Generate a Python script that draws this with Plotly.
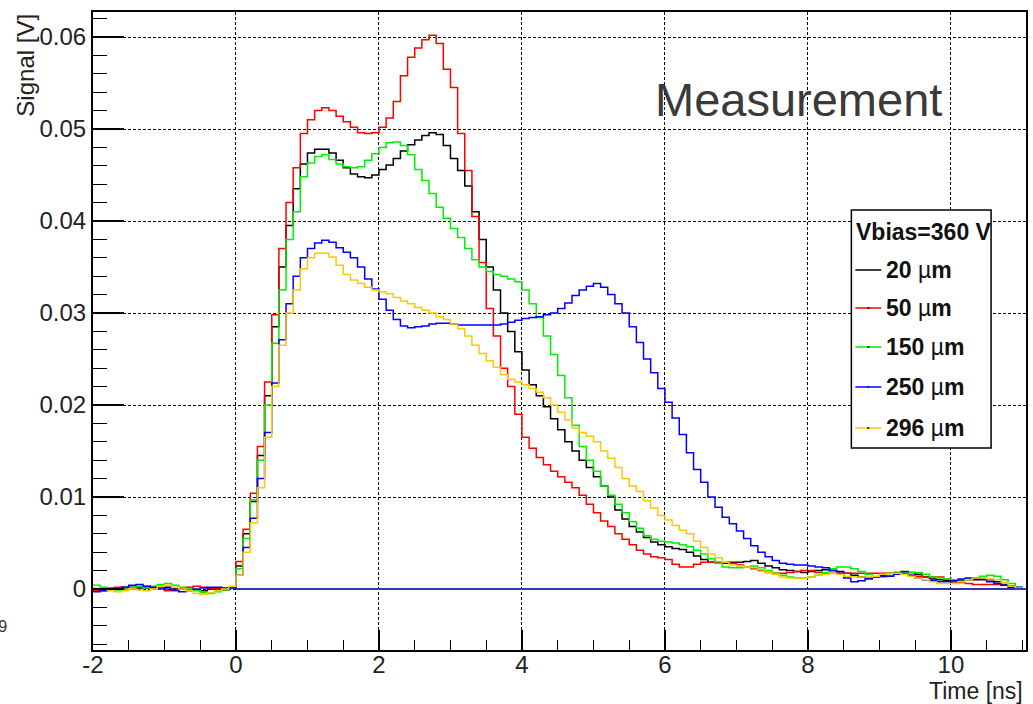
import numpy as np
import plotly.graph_objects as go

# Histogram binning: 0.1 ns bins from -2 ns to 11 ns (131 edges, 130 bins)
bin_edges_ns = np.round(np.arange(-2.0, 11.0 + 1e-9, 0.1), 1)

# Signal per bin in mV, one list per injection depth
signal_20um_mV = [
    0.0, -0.1, 0.0, 0.1, 0.2, 0.2, 0.1, 0.1, 0.2, 0.3,
    0.2, 0.1, 0.0, -0.1, -0.1, -0.2, 0.0, 0.0, 0.1, 0.2,
    2.5, 6.0, 9.5, 14.5, 21.0, 28.5, 35.0, 39.5, 43.5, 46.2,
    47.4, 47.8, 47.8, 47.4, 46.6, 45.8, 45.1, 44.8, 44.7, 45.0,
    45.6, 46.1, 46.8, 47.6, 48.3, 48.8, 49.3, 49.6, 49.4, 48.2,
    46.8, 45.5, 43.8, 41.0, 38.0, 35.0, 32.5, 30.0, 28.0, 25.8,
    23.8, 22.2, 21.0, 19.8, 18.5, 17.3, 16.0, 15.0, 14.0, 13.2,
    12.2, 11.2, 10.0, 8.6, 7.6, 6.8, 6.2, 5.6, 5.1, 4.8,
    4.6, 4.4, 4.3, 4.0, 3.6, 3.2, 2.9, 2.8, 2.8, 2.9,
    2.9, 3.0, 3.1, 2.8, 2.5, 2.3, 2.1, 2.0, 1.9, 1.8,
    1.9, 2.0, 2.1, 2.0, 1.9, 1.7, 1.5, 1.3, 1.2, 1.3,
    1.5, 1.7, 1.8, 1.9, 1.8, 1.6, 1.3, 1.1, 1.0, 0.9,
    0.8, 0.9, 1.0, 1.0, 1.0, 1.0, 0.8, 0.5, 0.2, 0.0,
]
signal_50um_mV = [
    -0.2, -0.2, 0.1, 0.2, 0.1, 0.0, 0.2, 0.3, 0.1, 0.0,
    -0.2, -0.2, 0.0, 0.2, 0.3, 0.2, 0.1, 0.0, -0.1, 0.1,
    3.0, 6.5, 10.4, 15.5, 22.5, 29.8, 37.0, 42.0, 45.8, 49.5,
    51.0, 52.0, 52.3, 52.0, 51.4, 50.8, 50.2, 49.6, 49.5, 49.6,
    50.2, 51.2, 53.0, 55.8, 57.8, 58.8, 59.7, 60.2, 59.3, 56.5,
    54.5, 49.5, 45.5, 40.5, 35.5, 30.5, 27.5, 24.0, 22.0, 19.0,
    16.5, 15.3, 14.3, 13.5, 12.8, 12.2, 11.6, 11.0, 10.2, 9.2,
    8.3, 7.4, 6.8, 6.0, 5.4, 4.8, 4.2, 3.8, 3.5, 3.4,
    3.2, 2.7, 2.4, 2.4, 2.7, 2.9, 2.9, 2.9, 2.9, 2.8,
    2.6, 2.4, 2.2, 2.0, 1.8, 1.7, 1.7, 1.8, 1.9, 2.0,
    2.0, 1.8, 1.7, 1.7, 1.7, 1.7, 1.7, 1.7, 1.7, 1.7,
    1.7, 1.7, 1.6, 1.6, 1.5, 1.4, 1.3, 1.3, 1.3, 1.1,
    0.8, 0.7, 0.6, 0.5, 0.5, 0.5, 0.5, 0.4, 0.3, 0.1,
]
signal_150um_mV = [
    0.4, 0.2, 0.0, -0.1, 0.0, 0.2, 0.3, 0.1, 0.3, 0.5,
    0.6, 0.4, 0.2, 0.0, -0.2, -0.4, -0.5, -0.3, -0.1, 0.1,
    2.2, 5.5, 9.7, 14.0, 20.0, 26.7, 32.5, 38.0, 41.0, 44.8,
    46.3, 47.0, 47.2, 46.7, 46.2, 45.9, 45.8, 45.9, 46.6, 47.3,
    48.0, 48.5, 48.6, 48.2, 47.2, 45.6, 44.4, 43.0, 41.5, 40.3,
    39.2, 38.2, 37.0, 35.8, 35.0, 34.5, 34.2, 34.0, 33.7, 33.4,
    32.5, 31.0, 29.5, 27.5, 25.5, 23.2, 20.8, 17.8, 15.5, 14.0,
    12.8, 11.2, 10.2, 9.2, 8.3, 7.3, 6.6, 5.8, 5.4, 5.2,
    5.1, 5.0, 4.8, 4.6, 4.2, 3.8, 3.3, 2.8, 2.4, 2.3,
    2.3, 2.4, 2.5, 2.3, 2.0, 1.7, 1.5, 1.3, 1.2, 1.2,
    1.3, 1.5, 1.8, 2.2, 2.4, 2.4, 2.2, 1.9, 1.6, 1.3,
    1.3, 1.5, 1.7, 1.8, 1.8, 1.8, 1.6, 1.3, 1.2, 1.1,
    1.0, 1.0, 1.1, 1.2, 1.4, 1.5, 1.4, 1.0, 0.6, 0.2,
]
signal_250um_mV = [
    -0.3, -0.2, -0.1, 0.0, 0.2, 0.4, 0.5, 0.3, 0.2, 0.1,
    0.0, -0.1, -0.3, -0.2, 0.0, 0.1, 0.2, 0.2, 0.0, 0.1,
    1.5, 4.5, 7.7, 12.0, 17.0, 22.4, 27.1, 31.0, 34.0, 36.0,
    37.0, 37.6, 37.9, 37.7, 37.1, 36.6, 36.0, 35.0, 33.7, 32.6,
    31.5, 30.3, 29.3, 28.6, 28.4, 28.5, 28.6, 28.8, 28.9, 28.9,
    28.8, 28.7, 28.7, 28.7, 28.7, 28.7, 28.7, 28.8, 29.0, 29.2,
    29.4, 29.5, 29.6, 29.8, 30.0, 30.5, 31.1, 31.9, 32.5, 32.9,
    33.2, 32.8, 32.0, 31.0, 30.0, 28.5, 26.8, 25.0, 23.5, 21.8,
    20.3, 18.6, 16.8, 14.8, 13.0, 11.6, 10.0, 8.9, 7.8, 7.1,
    6.3, 5.5, 4.7, 4.0, 3.5, 3.1, 2.8, 2.7, 2.6, 2.6,
    2.5, 2.4, 2.3, 2.0, 1.7, 1.2, 0.8, 0.9, 1.1, 1.3,
    1.4, 1.4, 1.6, 1.7, 1.5, 1.2, 1.0, 0.9, 0.8, 0.8,
    0.9, 1.1, 1.2, 1.2, 1.1, 0.8, 0.6, 0.4, 0.3, 0.2,
]
signal_296um_mV = [
    0.1, 0.0, -0.2, -0.3, -0.2, 0.0, -0.1, -0.2, 0.0, 0.3,
    0.4, 0.2, 0.0, -0.2, -0.5, -0.6, -0.4, -0.2, 0.0, 0.3,
    1.5, 4.0, 7.2, 11.0, 16.5, 22.0, 26.5, 30.0, 32.5, 34.8,
    36.0, 36.5, 36.5, 36.1, 35.2, 34.2, 33.6, 33.2, 32.8, 32.5,
    32.3, 32.1, 31.7, 31.3, 31.0, 30.6, 30.3, 30.0, 29.6, 29.3,
    28.8, 28.3, 27.5, 26.5, 25.6, 24.8, 24.1, 23.3, 22.8, 22.5,
    22.2, 21.8, 21.4, 20.8, 20.0, 19.2, 18.4, 17.5, 17.0, 16.6,
    16.0, 15.0, 14.2, 13.2, 12.0, 11.2, 10.6, 9.6, 8.8, 8.0,
    7.5, 6.9, 6.4, 6.0, 5.2, 4.5, 3.8, 3.4, 2.9, 2.6,
    2.5, 2.4, 2.3, 2.1, 1.8, 1.6, 1.3, 1.2, 1.2, 1.2,
    1.3, 1.5, 1.6, 1.7, 1.6, 1.4, 1.3, 1.3, 1.3, 1.4,
    1.6, 1.7, 1.7, 1.6, 1.4, 1.2, 1.0, 0.8, 0.6, 0.6,
    0.6, 0.8, 1.0, 1.2, 1.2, 1.1, 1.0, 0.7, 0.3, 0.1,
]

depth_labels = ["20", "50", "150", "250", "296"]
depth_colors = ["#000000", "#ff0000", "#00ee00", "#0000ff", "#ffc800"]
depth_signals = [signal_20um_mV, signal_50um_mV, signal_150um_mV,
                 signal_250um_mV, signal_296um_mV]

legend_title = "Vbias=360 V"
x_tick_values = [-2, 0, 2, 4, 6, 8, 10]
x_tick_text = ["-2", "0", "2", "4", "6", "8", "10"]
x_minor_ticks = [-1.5, -1, -0.5, 0.5, 1, 1.5, 2.5, 3, 3.5, 4.5, 5, 5.5,
                 6.5, 7, 7.5, 8.5, 9, 9.5, 10.5, 11]
y_tick_values = [0.0, 0.01, 0.02, 0.03, 0.04, 0.05, 0.06]
y_tick_text = ["0", "0.01", "0.02", "0.03", "0.04", "0.05", "0.06"]

X_RANGE = [-2.0, 11.05]
Y_RANGE = [-0.00663, 0.06272]
FONT = "Liberation Sans, Arial, Helvetica, sans-serif"

fig = go.Figure()

for vals, color in zip(depth_signals, depth_colors):
    assert len(vals) == len(bin_edges_ns) - 1
    y = np.asarray(vals, dtype=float) / 1000.0  # mV -> V
    y = np.append(y, y[-1])
    fig.add_trace(go.Scatter(
        x=bin_edges_ns, y=y, mode="lines",
        line=dict(color=color, width=1.5, shape="hv"),
        hoverinfo="skip", showlegend=False,
    ))

# Baseline drawn from t = 0 onwards
fig.add_shape(type="line", xref="x", yref="y", x0=0, x1=X_RANGE[1], y0=0, y1=0,
              line=dict(color="#3434b4", width=2), layer="above")

fig.update_layout(
    width=1033, height=704,
    margin=dict(l=93, r=5, t=12, b=54),
    paper_bgcolor="white", plot_bgcolor="white",
    showlegend=False,
    font=dict(family=FONT, color="#222222"),
)

grid_common = dict(showgrid=True, gridcolor="black", gridwidth=1, griddash="3px,2px",
                   showline=True, linecolor="black", linewidth=2, mirror=True,
                   zeroline=False, ticks="inside", tickcolor="black",
                   tickfont=dict(size=24, family=FONT, color="#222222"))

fig.update_xaxes(range=X_RANGE, tickmode="array", tickvals=x_tick_values,
                 ticktext=x_tick_text, ticklen=20, tickwidth=1.5,
                 ticklabelstandoff=-8,
                 minor=dict(tickmode="array", tickvals=x_minor_ticks, ticks="inside",
                            ticklen=10, tickwidth=1.2, tickcolor="black", showgrid=False),
                 **grid_common)
fig.update_yaxes(range=Y_RANGE, tickmode="array", tickvals=y_tick_values,
                 ticktext=y_tick_text, ticklen=31, tickwidth=1.5,
                 minor=dict(tick0=0, dtick=0.002, ticks="inside", ticklen=14,
                            tickwidth=1.2, tickcolor="black", showgrid=False),
                 **grid_common)

W_PLOT, H_PLOT = 935.0, 638.0


def px_x(px):
    return (px - 93) / W_PLOT


def px_y(py):
    return (650 - py) / H_PLOT


annotations = [
    dict(text="Signal [V]", textangle=-90, x=px_x(25), y=px_y(12),
         xanchor="center", yanchor="top", font=dict(size=24)),
    dict(text="Time [ns]", x=px_x(1027), y=px_y(691),
         xanchor="right", yanchor="middle", font=dict(size=23)),
    dict(text="Measurement", x=px_x(800), y=px_y(99),
         xanchor="center", yanchor="middle", font=dict(size=47, color="#3a3a3a")),
    dict(text="-9", x=px_x(9), y=px_y(626), xanchor="right", yanchor="middle",
         font=dict(size=16, color="#333333")),
    dict(text="<b>" + legend_title + "</b>", x=px_x(856), y=px_y(232),
         xanchor="left", yanchor="middle", font=dict(size=23, color="#111111")),
]

# Legend frame
fig.add_shape(type="rect", xref="paper", yref="paper",
              x0=px_x(853), x1=px_x(993), y0=px_y(448), y1=px_y(210),
              line=dict(color="black", width=1.5), fillcolor="white", layer="above")

entry_rows = [270, 308, 347, 387, 428]
for label, color, row in zip(depth_labels, depth_colors, entry_rows):
    fig.add_shape(type="line", xref="paper", yref="paper",
                  x0=px_x(857), x1=px_x(883), y0=px_y(row), y1=px_y(row),
                  line=dict(color=color, width=1.5), layer="above")
    if color != "#000000":
        fig.add_shape(type="rect", xref="paper", yref="paper",
                      x0=px_x(869), x1=px_x(871), y0=px_y(row + 1), y1=px_y(row - 1),
                      line=dict(width=0), fillcolor="#222222", layer="above")
    annotations.append(dict(
        text="<b>" + label + " </b>\u00b5<b>m</b>", x=px_x(886), y=px_y(row),
        xanchor="left", yanchor="middle", font=dict(size=23, color="#111111")))

for a in annotations:
    a.update(xref="paper", yref="paper", showarrow=False)
fig.update_layout(annotations=annotations)

fig.write_html("out.html")
